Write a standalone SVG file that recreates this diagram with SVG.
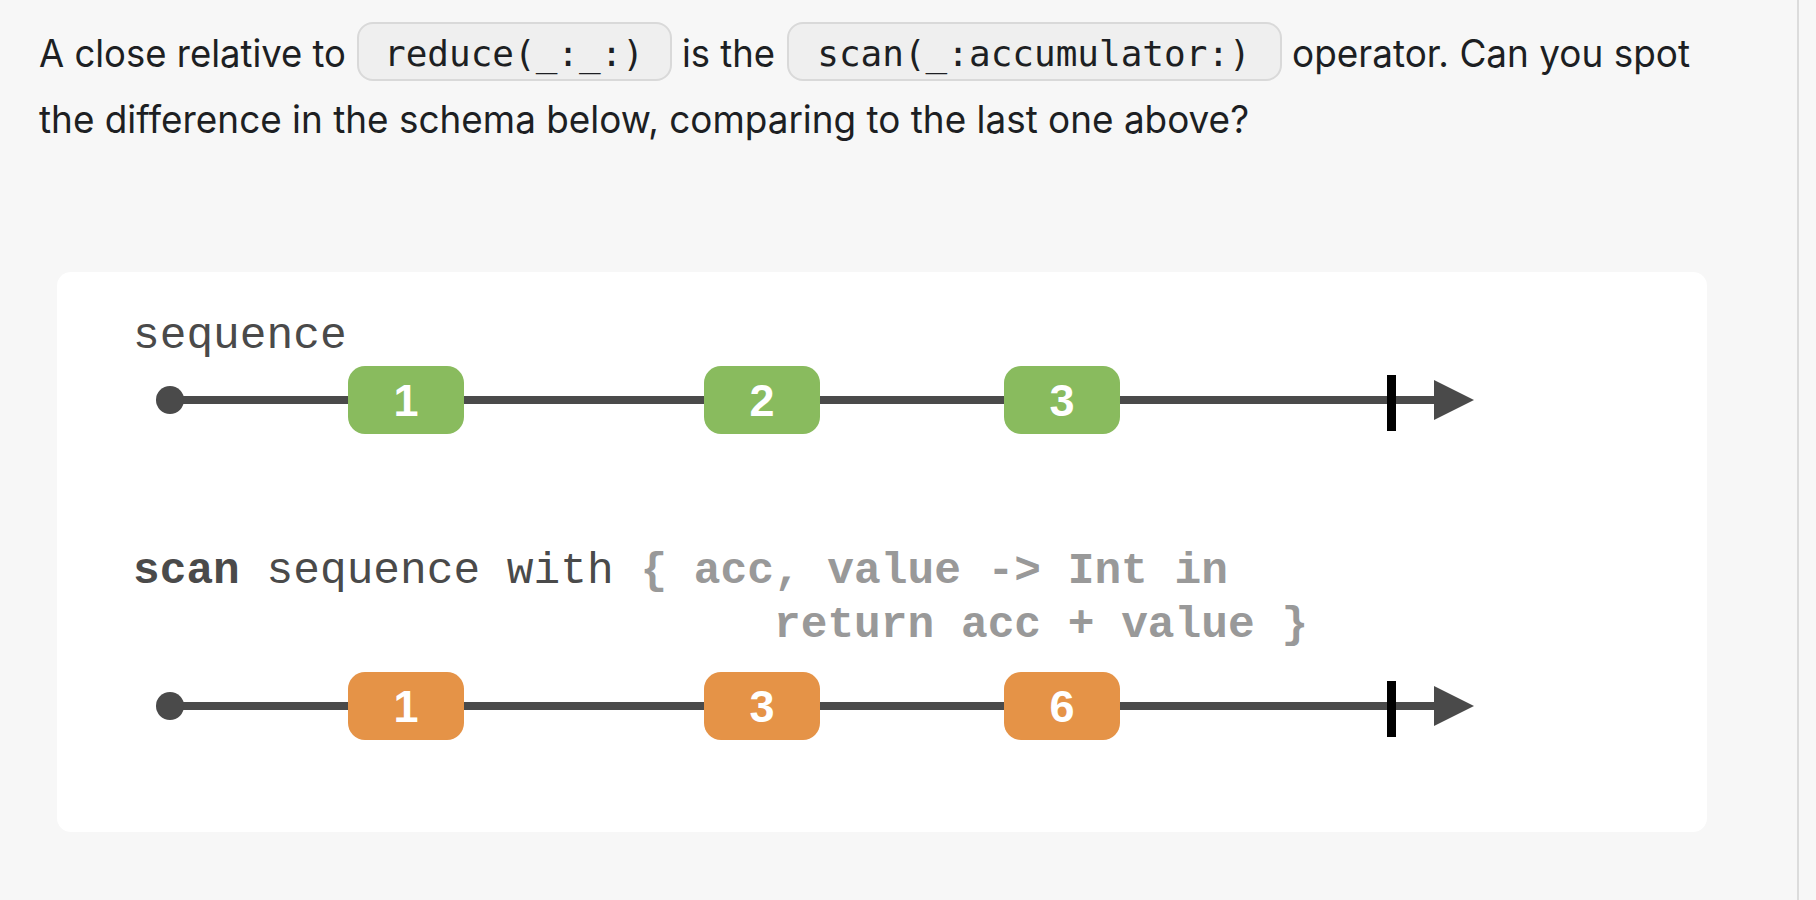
<svg xmlns="http://www.w3.org/2000/svg" width="1816" height="900" viewBox="0 0 1816 900">
  <style>
    .body { font-family: Inter, "Liberation Sans", sans-serif; font-size: 38px; fill: #1d1f23; }
    .code { font-family: "DejaVu Sans Mono", "Liberation Mono", monospace; font-size: 36px; fill: #1d1f23; }
    .codebox { fill: #efefef; stroke: #d9d9d9; stroke-width: 2; }
    .mono { font-family: "Liberation Mono", "DejaVu Sans Mono", monospace; font-size: 44.5px; fill: #4a4a4a; }
    .gray { fill: #999999; font-weight: bold; }
    .track { stroke: #4a4a4a; stroke-width: 8; fill: none; }
    .head { fill: #4a4a4a; }
    .tick { fill: #000000; }
    .start { fill: #4a4a4a; }
    .green { fill: #89bb5e; }
    .orange { fill: #e59347; }
    .num { font-family: "Liberation Sans", Arial, sans-serif; font-weight: bold; font-size: 45px; fill: #ffffff; text-anchor: middle; }
  </style>
  <rect x="0" y="0" width="1816" height="900" fill="#f7f7f7"/>
  <rect x="1797" y="0" width="2" height="900" fill="#dcdcdc"/>

  <g id="intro">
    <text class="body" x="39" y="67" textLength="307" lengthAdjust="spacingAndGlyphs">A close relative to</text>
    <rect class="codebox" x="358" y="23" width="313" height="57" rx="15"/>
    <text class="code" x="514" y="66" text-anchor="middle">reduce(_:_:)</text>
    <text class="body" x="682" y="67" textLength="93" lengthAdjust="spacingAndGlyphs">is the</text>
    <rect class="codebox" x="788" y="23" width="493" height="57" rx="15"/>
    <text class="code" x="1034" y="66" text-anchor="middle">scan(_:accumulator:)</text>
    <text class="body" x="1292" y="67" textLength="398" lengthAdjust="spacingAndGlyphs">operator. Can you spot</text>
    <text class="body" x="39" y="133" textLength="1210" lengthAdjust="spacingAndGlyphs">the difference in the schema below, comparing to the last one above?</text>
  </g>

  <rect id="card" x="57" y="272" width="1650" height="560" rx="14" fill="#ffffff"/>

  <g id="labels">
    <text class="mono" x="133" y="348">sequence</text>
    <text class="mono" x="133" y="583"><tspan font-weight="bold">scan</tspan> sequence with <tspan class="gray">{ acc, value -&gt; Int in</tspan></text>
    <text class="mono gray" x="774" y="637">return acc + value }</text>
  </g>

  <g id="connectors">
    <line class="track" x1="170" y1="400" x2="1440" y2="400"/>
    <circle class="start" cx="170" cy="400" r="14"/>
    <rect class="tick" x="1387" y="375" width="9" height="56"/>
    <polygon class="head" points="1434,380 1474,400 1434,420"/>

    <line class="track" x1="170" y1="706" x2="1440" y2="706"/>
    <circle class="start" cx="170" cy="706" r="14"/>
    <rect class="tick" x="1387" y="681" width="9" height="56"/>
    <polygon class="head" points="1434,686 1474,706 1434,726"/>
  </g>

  <g id="seq-1"><rect class="green" x="348" y="366" width="116" height="68" rx="17"/><text class="num" x="406" y="416">1</text></g>
  <g id="seq-2"><rect class="green" x="704" y="366" width="116" height="68" rx="17"/><text class="num" x="762" y="416">2</text></g>
  <g id="seq-3"><rect class="green" x="1004" y="366" width="116" height="68" rx="17"/><text class="num" x="1062" y="416">3</text></g>

  <g id="scan-1"><rect class="orange" x="348" y="672" width="116" height="68" rx="17"/><text class="num" x="406" y="722">1</text></g>
  <g id="scan-3"><rect class="orange" x="704" y="672" width="116" height="68" rx="17"/><text class="num" x="762" y="722">3</text></g>
  <g id="scan-6"><rect class="orange" x="1004" y="672" width="116" height="68" rx="17"/><text class="num" x="1062" y="722">6</text></g>
</svg>
